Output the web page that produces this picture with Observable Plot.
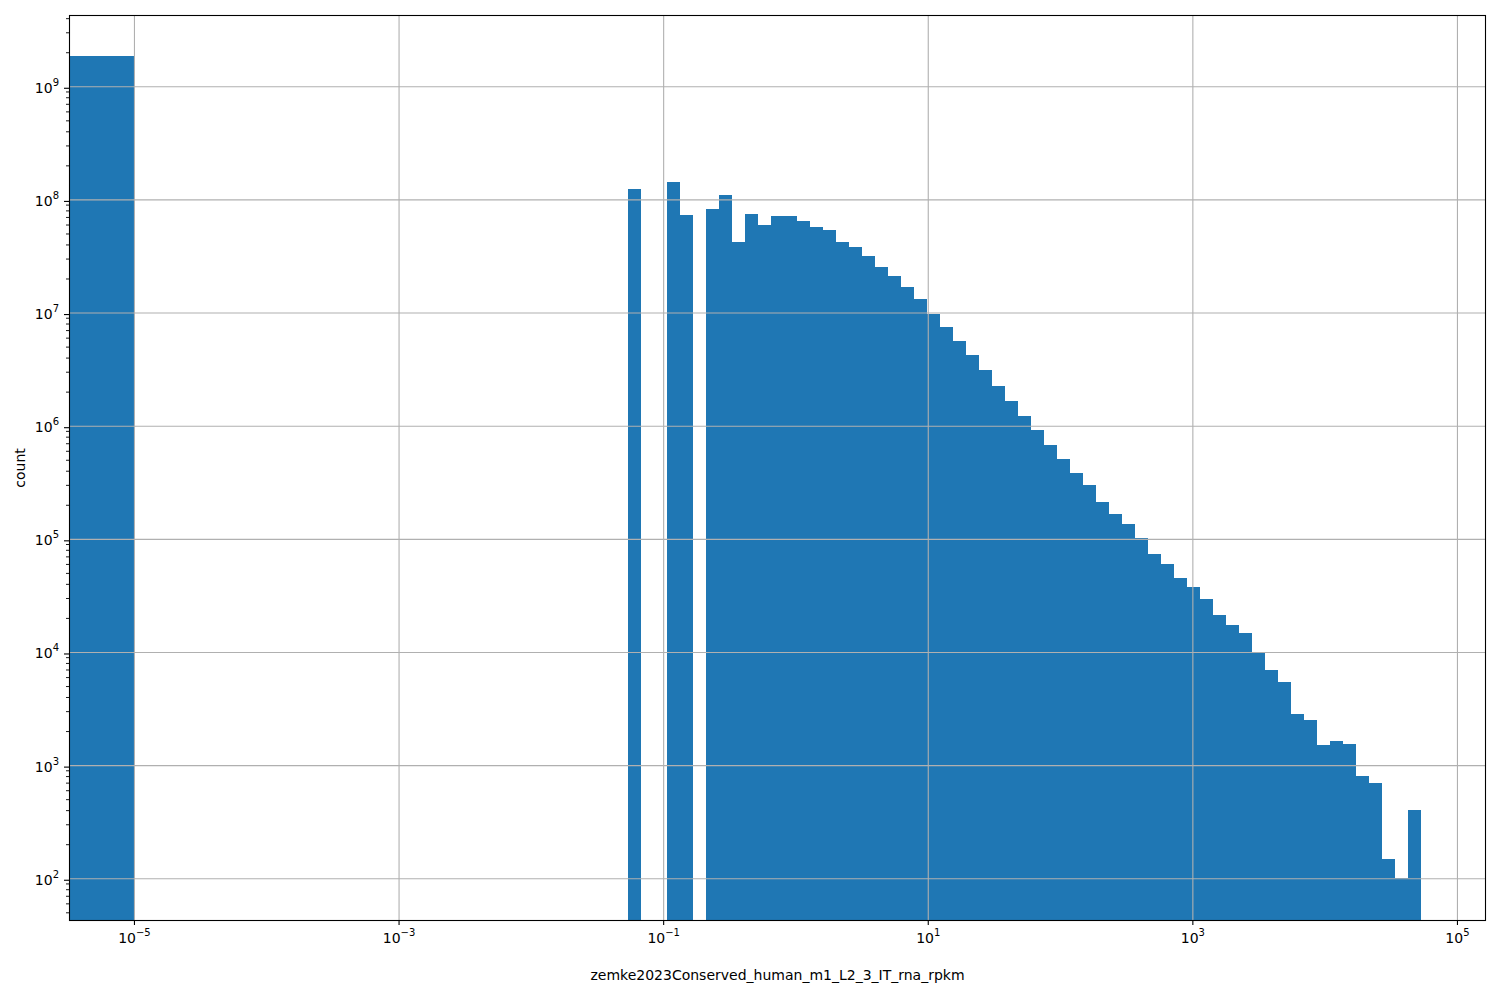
<!DOCTYPE html>
<html><head><meta charset="utf-8">
<script src="https://cdn.jsdelivr.net/npm/d3@7"></script>
<script src="https://cdn.jsdelivr.net/npm/@observablehq/plot@0.6"></script>
<style>html,body{margin:0;padding:0;background:#fff;} #chart svg{display:block;}</style>
</head><body><div id="chart"></div>
<script>
// Histogram bin edges (log-spaced) and counts
const binEdges = [0.0542, 0.0680, 0.0852, 0.1069, 0.1341, 0.1681, 0.2108, 0.2643, 0.3314, 0.4156,
  0.5212, 0.6535, 0.8195, 1.028, 1.289, 1.616, 2.027, 2.541, 3.187, 3.996,
  5.012, 6.284, 7.880, 9.883, 12.39, 15.54, 19.49, 24.44, 30.65, 38.43,
  48.19, 60.43, 75.78, 95.04, 119.2, 149.4, 187.4, 235.0, 294.7, 369.6,
  463.4, 581.1, 728.8, 913.9, 1146, 1437, 1803, 2260, 2835, 3554,
  4457, 5589, 7009, 8790, 11020, 13820, 17330, 21740, 27250, 34180,
  42860, 53750];
const counts = [1.24e8, 0, 0, 1.43e8, 7.29e7, 0, 8.23e7, 1.09e8, 4.21e7, 7.43e7,
  5.94e7, 7.14e7, 7.14e7, 6.45e7, 5.71e7, 5.37e7, 4.21e7, 3.80e7, 3.16e7, 2.53e7,
  2.11e7, 1.68e7, 1.32e7, 9.72e6, 7.46e6, 5.61e6, 4.22e6, 3.11e6, 2.24e6, 1.65e6,
  1.22e6, 9.17e5, 6.75e5, 5.08e5, 3.82e5, 2.99e5, 2.12e5, 1.66e5, 1.35e5, 1.02e5,
  7.35e4, 6.00e4, 4.51e4, 3.75e4, 2.94e4, 2.12e4, 1.73e4, 1.47e4, 9.80e3, 6.93e3,
  5.43e3, 2.83e3, 2.51e3, 1.51e3, 1.64e3, 1.54e3, 802, 695, 148, 100,
  401];
// the bin of zero values (pseudocount), drawn at the far left
const zeroBinEdges = [1e-6, 1e-5];
const zeroBinCount = 1.85e9;

const xTickValues = [1e-5, 1e-3, 1e-1, 1e1, 1e3, 1e5];
const yTickValues = [1e2, 1e3, 1e4, 1e5, 1e6, 1e7, 1e8, 1e9];
const xLabel = "zemke2023Conserved_human_m1_L2_3_IT_rna_rpkm";
const yLabel = "count";

const xDomain = [10 ** -5.491, 10 ** 5.212];
const yDomain = [10 ** 1.631, 10 ** 9.630];

const bins = counts.map((c, i) => ({x1: binEdges[i], x2: binEdges[i + 1], count: c}))
  .filter(d => d.count > 0);
bins.unshift({x1: zeroBinEdges[0], x2: zeroBinEdges[1], count: zeroBinCount});

const yMinor = [];
for (let k = 1; k <= 9; k++) for (let m = 2; m <= 9; m++) {
  const v = m * 10 ** k;
  if (v > yDomain[0] && v < yDomain[1]) yMinor.push(v);
}

// "10|exp" placeholder; turned into 10 + raised exponent after render
const fmtPow = v => "10|" + String(Math.round(Math.log10(v))).replace("-", "\u2212");

const blue = "#1f77b4";
const grid = "#b0b0b0";

const chart = Plot.plot({
  width: 1500,
  height: 1000,
  marginLeft: 69,
  marginRight: 15,
  marginTop: 15,
  marginBottom: 80,
  style: {fontFamily: "'DejaVu Sans', sans-serif", fontSize: "14px", background: "white", color: "black"},
  x: {type: "log", domain: xDomain, label: null},
  y: {type: "log", domain: yDomain, label: null},
  marks: [
    Plot.rect(bins, {x1: "x1", x2: "x2", y1: () => yDomain[0], y2: "count", fill: blue, clip: true, shapeRendering: "crispEdges"}),
    Plot.gridX(xTickValues, {stroke: grid, strokeOpacity: 1, strokeWidth: 1.1}),
    Plot.gridY(yTickValues, {stroke: grid, strokeOpacity: 1, strokeWidth: 1.1}),
    Plot.axisX(xTickValues, {tickSize: 5, tickPadding: 8, tickFormat: fmtPow, fontSize: 14, label: null, strokeWidth: 1.1}),
    Plot.axisY(yTickValues, {tickSize: 5, tickPadding: 5.5, tickFormat: fmtPow, fontSize: 14, label: null, strokeWidth: 1.1, dy: 1.5}),
    Plot.axisY(yMinor, {tickSize: 3, fill: "none", label: null, strokeWidth: 0.9}),
    Plot.frame({stroke: "black", strokeWidth: 1.1}),
    Plot.text([xLabel], {frameAnchor: "bottom", textAnchor: "middle", lineAnchor: "middle", dy: 55.5, fontSize: 14}),
    Plot.text([yLabel], {frameAnchor: "left", textAnchor: "middle", lineAnchor: "middle", dx: -49, rotate: -90, fontSize: 14})
  ]
});

// render tick labels as 10 with a smaller raised exponent (like mathtext)
chart.querySelectorAll("text").forEach(t => {
  const s = t.textContent;
  if (!s.startsWith("10|")) return;
  const exp = s.slice(3);
  t.textContent = "";
  const ns = "http://www.w3.org/2000/svg";
  const base = document.createElementNS(ns, "tspan");
  base.textContent = "10";
  const sup = document.createElementNS(ns, "tspan");
  sup.textContent = exp;
  sup.setAttribute("font-size", "10px");
  sup.setAttribute("dy", "-7");
  t.appendChild(base);
  t.appendChild(sup);
});
document.getElementById("chart").appendChild(chart);
</script>
</body></html>
